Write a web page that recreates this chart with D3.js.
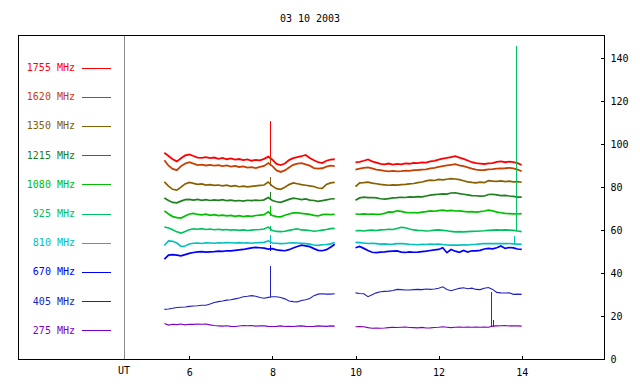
<!DOCTYPE html>
<html><head><meta charset="utf-8">
<script src="https://cdn.jsdelivr.net/npm/d3@7"></script>
<style>
body{margin:0;background:#fff;}
text{font-family:"DejaVu Sans Mono",monospace;font-size:10px;fill:#000;}
</style></head>
<body><svg id="c" width="640" height="384"></svg>
<script>
const title = "03 10 2003";
const xTicks = [6, 8, 10, 12, 14];
const yTicks = [0, 20, 40, 60, 80, 100, 120, 140];
const labels = ["1755 MHz","1620 MHz","1350 MHz","1215 MHz","1080 MHz","925 MHz","810 MHz","670 MHz","405 MHz","275 MHz"];
const colors = ["#ff0000","#c84000","#886000","#208020","#00c000","#00c060","#00c0c0","#0000ff","#2020c0","#8000c0"];

const timesA = [5.4,5.5,5.6,5.7,5.8,5.9,6.0,6.1,6.2,6.3,6.4,6.5,6.6,6.7,6.8,6.9,7.0,7.1,7.2,7.3,7.4,7.5,7.6,7.7,7.8,7.9,8.0,8.1,8.2,8.3,8.4,8.5,8.6,8.7,8.8,8.9,9.0,9.1,9.2,9.3,9.4,9.5];
const timesB = [10.0,10.1,10.2,10.3,10.4,10.5,10.6,10.7,10.8,10.9,11.0,11.1,11.2,11.3,11.4,11.5,11.6,11.7,11.8,11.9,12.0,12.1,12.2,12.3,12.4,12.5,12.6,12.7,12.8,12.9,13.0,13.1,13.2,13.3,13.4,13.5,13.6,13.7,13.8,13.9,14.0];

const f1755a = [96,94.5,93,92,93.5,94.8,95.2,94.5,93.8,93.6,94,93.5,93.8,93.2,93.6,93,93.4,92.8,93.1,92.6,92.9,92.3,92.7,92.5,93.2,94.2,92.8,90.8,90.3,91,92.6,93.5,94,94.4,95,93.6,92.5,91.6,91.2,92.3,92.8,93];
const f1755b = [91.5,91.8,92.3,92.9,92,91.4,90.8,90.6,91,90.5,90.8,90.6,91.1,90.9,91.3,91.2,91.5,91.4,92,92.2,92.8,93.3,93.6,94,94.4,93.8,93.2,92.4,91.6,91.2,91,90.8,91.1,91.2,91.8,92,91.6,91.9,91.7,91.2,90.3];
const f1620a = [92.5,90,88.5,87.9,89.8,91,91.6,91,90.3,90.5,90.1,90.4,90,90.3,89.8,90.1,89.6,89.9,89.4,89.7,89.1,89.3,88.9,89.4,89.9,91.2,89.8,87.8,87.1,87.8,89.2,90.4,91,91.2,90.6,90,88.9,88.6,88.8,89.6,90,89.8];
const f1620b = [88.2,88.6,89,89.2,88.7,88.2,87.9,87.6,87.4,87.6,87.4,87.5,87.7,87.6,87.9,88,88.2,88.3,88.7,89,89.4,89.8,90.1,90.4,90.7,90.2,89.8,89.2,88.6,88.2,87.9,88,88.3,88.4,88.6,88.7,88.8,89,88.8,88.2,87.4];
const f1350a = [82.5,80.5,79,78.6,80,81.5,82.2,81.8,81.3,81.5,81,81.2,80.8,81,80.6,80.9,80.4,80.7,80.2,80.5,80.1,80.4,80.6,80.8,81,82.4,80.5,79.3,79,80,81.2,82,81.6,81.2,80.9,80.6,80.3,79.6,79.4,81.3,82,82.2];
const f1350b = [80.2,82,82.1,82.3,81.9,81.6,81.3,81.1,80.9,81.1,81,81.2,81.3,81.5,81.7,82.1,82.4,82.9,83.3,83.1,83.6,83.4,83.7,84,83.8,83.5,83,82.5,82.2,82,82.3,82.1,83,82.8,82.7,82.9,82.6,82.8,82.5,82.6,82.3];
const f1215a = [75,73.8,72.9,72.7,73.5,74.2,74.3,74,74.3,73.9,74.2,73.8,74.1,73.9,74.2,73.7,74,73.6,73.8,73.5,73.9,73.7,74,73.8,74.1,75.2,73.8,73.2,72.9,73.6,74.3,74.9,74.6,74.2,74.5,74,73.8,73.4,73.7,74.1,74.5,74.6];
const f1215b = [73.9,75,75.4,75.1,75.2,75,74.6,74.4,74.7,75,75.1,75.3,75.2,75.5,75.4,75.6,75.5,75.9,76.3,76.5,76.7,76.9,76.8,77.3,77.4,77,76.7,76.4,76.1,76,75.8,75.9,76.6,76.7,76.4,76.1,76.2,75.9,75.7,75.4,75.4];
const f1080a = [69,67.5,66.3,65.8,65.6,66.6,67.5,67.8,67.3,67.1,67.4,66.9,67.2,66.8,67,66.6,66.9,66.4,66.7,66.3,66.6,66.4,66.8,67,67.2,68.5,66.8,66.3,66.2,66.9,67.5,68,68.1,67.8,67.6,67.3,66.9,66.6,67.2,67.4,67.2,67.4];
const f1080b = [67.5,67.4,67.6,67.4,67.5,67.3,67.4,67.8,68.5,68.4,69,68.7,68.3,68.1,68.2,68,68.4,68.6,69,68.8,69.1,69.3,69,69.2,68.9,69,68.7,68.5,68.6,68.4,68.6,68.9,69.3,69,68.4,68.1,67.8,67.7,67.6,67.5,67.7];
const f925a = [61.5,61,60.2,59.2,58.6,59.4,60.2,60.6,60.4,60.7,60.3,60.5,60.2,60.4,60.1,60.3,60,60.2,59.9,60.1,59.8,60,60.2,60.3,60.5,61.4,59.8,59.4,59.3,59.5,59.9,60.3,60.6,60.1,60,59.8,59.5,59.7,60,60.3,60.7,60.8];
const f925b = [59.7,59.8,59.6,59.9,60,59.8,60.1,60.2,60.4,60.3,60.8,61.3,61.1,60.5,60.1,59.9,59.8,59.6,59.7,60,60.1,59.9,59.7,59.4,59.2,59.3,59.2,59.3,59.4,59.5,59.6,59.7,59.9,60,60.1,60,60.1,60,59.9,59.6,59.3];
const f810a = [52.8,55,54.8,54,52.4,52.6,53.5,53.9,54,53.8,54.1,54,53.9,54.1,54,54.2,54.1,54,54.2,54,54.1,53.9,54.1,54.2,54.3,55,54,53.9,53.7,53.8,54,54.1,54,53.9,53.7,53.5,53.1,52.9,53.2,53.3,53.6,54.2];
const f810b = [54.3,54.2,54,53.8,53.9,53.7,53.5,53.6,53.4,53.5,53.7,53.8,53.6,53.4,53.3,53.2,53.4,53.3,53.5,53.4,53.5,53.3,53.1,53,53.1,53,53.2,53.1,53.3,53.4,53.6,53.8,53.7,53.8,53.7,53.8,53.7,53.8,53.6,53.5,53.4];
const f670a = [46.5,48.4,48.6,48.4,48,48.6,49.2,49.6,49.9,50,49.8,49.9,50,50.2,50.1,50.4,50.3,50.6,50.8,51,51.4,51.7,52,51.8,51.6,51.2,51.4,50.8,50.6,50.4,50.9,51.7,52.4,53,52.7,52.3,51.4,50.6,50.4,50.9,52,53.4];
const f670b = [51.8,52.4,51.5,50.5,49.7,49.5,49.8,49.9,50.1,50.2,50.3,49.8,49.6,49.9,49.7,49.8,50,50.2,50.5,50.8,51,51.8,49.5,51,50.2,49.7,50.5,49.8,50.4,50.3,50.6,51.2,51.5,51.3,51.8,52.6,51.5,51.9,51.7,51.2,51];
const f405a = [23.1,23.3,23.6,24,24.1,24.2,24.5,24.7,24.8,25,25,25.6,26.3,26.7,27,27.4,27.6,28,28.4,29,29.2,29.5,29.2,28.6,28.3,28.7,29,29,28.6,28,27,26.7,26.6,27.2,27.6,28.2,29.5,30.2,30.4,30.2,30.2,30.4];
const f405b = [30.8,30.5,30.4,29,29.9,30.8,31.3,31.5,31.6,31.9,32.4,32.3,32.1,32.1,32.3,32.4,32.3,32.6,32.4,32.6,32.9,33.6,32.4,31.8,32.4,32.9,33.2,32.7,33,32.4,32.3,32.9,33.3,32.4,31,30.8,30.7,30.8,30.1,30.2,30.1];
const f275a = [16.5,15.8,16.2,16,16.3,15.9,16.2,16.1,16.3,16.2,16.3,15.9,15.6,15.4,15.3,15.5,15.2,15.1,15.4,15.6,15.5,15.6,15.3,15.5,15.4,15.2,15.1,15.2,15.4,15.1,15.2,15.1,15.3,15.4,15.2,15.1,15.2,15.4,15.3,15.2,15.4,15.3];
const f275b = [15,15.1,15,14.6,14.3,14.4,14.3,14.4,14.6,14.8,14.7,14.8,14.9,14.7,14.6,14.5,14.7,14.4,14.5,14.7,14.8,15,14.8,14.6,14.8,14.9,14.8,14.9,14.8,14.9,14.8,14.9,14.8,15.3,15.4,15.5,15.6,15.4,15.5,15.4,15.3];

// spikes: series index, time, base value, peak value
const spikes = [
  [0, 7.95, 93.5, 111], [1, 7.95, 90, 94], [2, 7.95, 80.5, 84.8], [3, 7.95, 73.8, 77.8],
  [4, 7.95, 66.8, 71.2], [5, 7.95, 59.5, 62], [6, 7.95, 53.5, 57.5], [7, 7.95, 50.5, 53],
  [8, 7.95, 28.7, 43.3], [5, 13.86, 59.9, 145.6], [6, 13.82, 53.6, 57.2],
  [9, 13.26, 14.8, 31.3], [9, 13.30, 15, 18.1]
];

const segA = [f1755a,f1620a,f1350a,f1215a,f1080a,f925a,f810a,f670a,f405a,f275a];
const segB = [f1755b,f1620b,f1350b,f1215b,f1080b,f925b,f810b,f670b,f405b,f275b];
const widths = [1.8,1.8,1.7,1.7,1.7,1.6,1.6,1.7,1.1,1.1];

const svg = d3.select("#c");
const x = d3.scaleLinear().domain([6, 14]).range([189.3, 521.7]);
const y = d3.scaleLinear().domain([0, 140]).range([359, 58.3]);

// frame
svg.append("rect").attr("x", 18.5).attr("y", 35.5).attr("width", 586).attr("height", 323.5)
  .attr("fill", "none").attr("stroke", "#000").attr("shape-rendering", "crispEdges");
svg.append("line").attr("x1", 124.5).attr("x2", 124.5).attr("y1", 36).attr("y2", 359)
  .attr("stroke", "#888").attr("shape-rendering", "crispEdges");

// title
svg.append("text").attr("x", 310).attr("y", 22).attr("text-anchor", "middle").text(title);

// x axis
const xa = svg.append("g").attr("transform", "translate(0,359.5)")
  .call(d3.axisBottom(x).tickValues(xTicks).tickSizeInner(-4).tickSizeOuter(0).tickPadding(9).tickFormat(d3.format("d")));
xa.select(".domain").remove();
xa.selectAll("line").attr("shape-rendering", "crispEdges");
xa.selectAll("text").style("font-family", "DejaVu Sans Mono").style("font-size", "10px");
svg.append("text").attr("x", 124).attr("y", 374).attr("text-anchor", "middle").text("UT");

// y axis (right)
const ya = svg.append("g").attr("transform", "translate(604.5,0)")
  .call(d3.axisRight(y).tickValues(yTicks).tickSizeInner(-4).tickSizeOuter(0).tickPadding(6));
ya.select(".domain").remove();
ya.selectAll("line").attr("shape-rendering", "crispEdges");
ya.selectAll("text").style("font-family", "DejaVu Sans Mono").style("font-size", "10px");

// legend
labels.forEach((lab, i) => {
  const ly = 67.5 + i * 29.2;
  svg.append("text").attr("x", 75).attr("y", ly).attr("dy", "0.35em")
    .attr("text-anchor", "end").attr("fill", colors[i]).style("fill", colors[i]).text(lab);
  svg.append("line").attr("x1", 82).attr("x2", 111).attr("y1", Math.round(ly) + 0.5).attr("y2", Math.round(ly) + 0.5)
    .attr("stroke", colors[i]).attr("shape-rendering", "crispEdges");
});

// series
const line = d3.line().x(d => x(d[0])).y(d => y(d[1]));
const g = svg.append("g");
for (let i = labels.length - 1; i >= 0; i--) {
  g.append("path").datum(timesA.map((t, k) => [t, segA[i][k]]))
    .attr("d", line).attr("fill", "none").attr("stroke", colors[i]).attr("stroke-width", widths[i]);
  g.append("path").datum(timesB.map((t, k) => [t, segB[i][k]]))
    .attr("d", line).attr("fill", "none").attr("stroke", colors[i]).attr("stroke-width", widths[i]);
}
spikes.forEach(s => {
  g.append("line").attr("x1", Math.round(x(s[1])) + 0.5).attr("x2", Math.round(x(s[1])) + 0.5)
    .attr("y1", y(s[2])).attr("y2", y(s[3])).attr("stroke", colors[s[0]]).attr("shape-rendering", "crispEdges");
});
</script></body></html>
